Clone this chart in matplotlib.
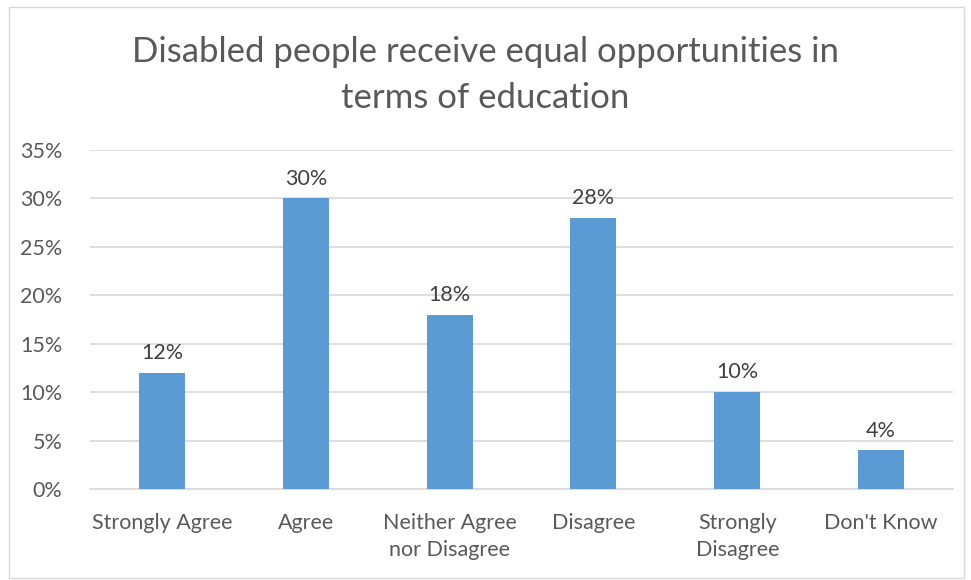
import matplotlib.pyplot as plt
from matplotlib.patches import Rectangle
from matplotlib.ticker import FuncFormatter

categories = ['Strongly Agree', 'Agree', 'Neither Agree\nnor Disagree', 'Disagree',
              'Strongly\nDisagree', "Don't Know"]
values = [12, 30, 18, 28, 10, 4]
yticks = [0, 5, 10, 15, 20, 25, 30, 35]

plt.rcParams['font.family'] = ['Lato', 'DejaVu Sans']
text_col = '#595959'

fig = plt.figure(figsize=(9.71, 5.80), dpi=100)
fig.patches.append(Rectangle((9 / 971, 2 / 580), 955 / 971, 571 / 580, transform=fig.transFigure,
                             fill=False, edgecolor='#d9d9d9', linewidth=1))

ax = fig.add_axes([90 / 971, 1 - 489 / 580, 863 / 971, 339 / 580])
x = range(len(categories))
bars = ax.bar(x, values, width=0.32, color='#5b9bd5', zorder=3)
for b, v in zip(bars, values):
    ax.text(b.get_x() + b.get_width() / 2, v + 1.0, f'{v}%', ha='center', va='bottom',
            fontsize=15.5, color='#404040')

ax.set_xlim(-0.5, len(categories) - 0.5)
ax.set_ylim(0, 35)
ax.set_yticks(yticks)
ax.yaxis.set_major_formatter(FuncFormatter(lambda v, p: f'{v:.0f}%'))
ax.set_xticks(list(x))
ax.set_xticklabels(categories, va='top', linespacing=1.45)
ax.tick_params(axis='both', length=0, labelsize=15.5, labelcolor=text_col)
ax.tick_params(axis='y', pad=20)
ax.tick_params(axis='x', pad=17)
ax.grid(axis='y', color='#d9d9d9', linewidth=1.2, zorder=0)
for s in ['top', 'right', 'left']:
    ax.spines[s].set_visible(False)
ax.spines['bottom'].set_color('#d9d9d9')
ax.spines['bottom'].set_linewidth(1.2)

fig.text(0.5, 1 - 52 / 580, 'Disabled people receive equal opportunities in', ha='center', va='center',
         fontsize=25, color=text_col)
fig.text(0.5, 1 - 98 / 580, 'terms of education', ha='center', va='center', fontsize=25, color=text_col)

fig.savefig('out.png', dpi=100)
